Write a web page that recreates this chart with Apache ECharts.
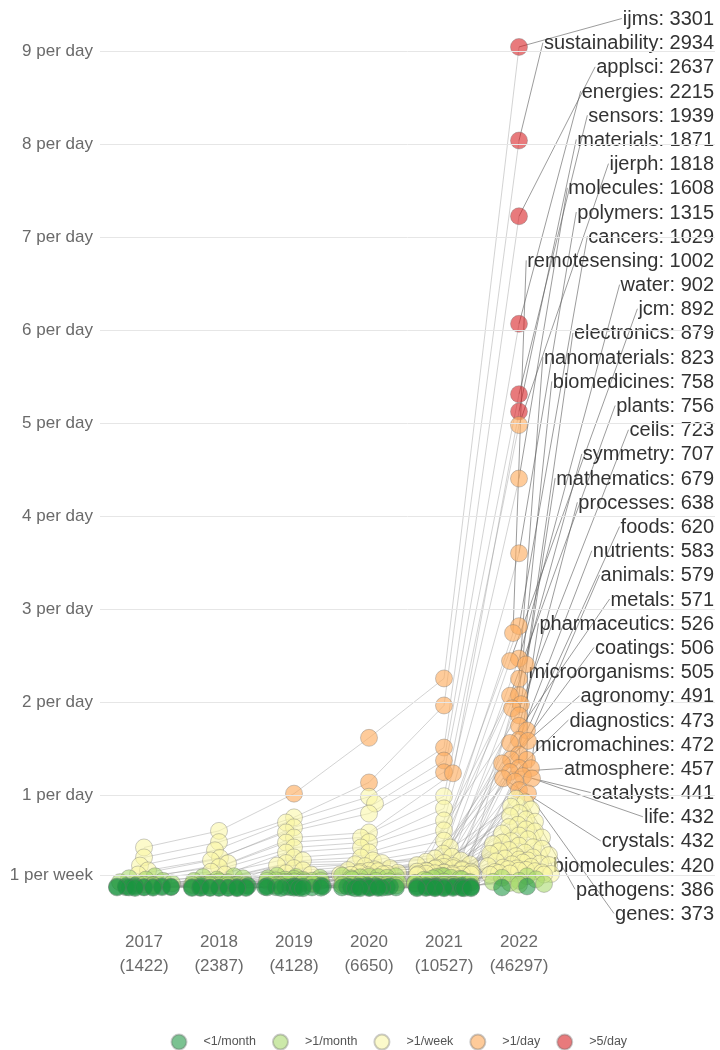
<!DOCTYPE html>
<html>
<head>
<meta charset="utf-8">
<script src="https://cdn.jsdelivr.net/npm/echarts@6/dist/echarts.min.js"></script>
<style>html,body{margin:0;padding:0;background:#fff}#c{width:720px;height:1050px}</style>
</head>
<body>
<div id="c"></div>
<script>
// ---------------- DATA ----------------
const years = ['2017', '2018', '2019', '2020', '2021', '2022'];
const yearTotals = [1422, 2387, 4128, 6650, 10527, 46297];

const yTickValues = [1 / 7, 1, 2, 3, 4, 5, 6, 7, 8, 9];
const yTickLabels = ['1 per week', '1 per day', '2 per day', '3 per day', '4 per day',
  '5 per day', '6 per day', '7 per day', '8 per day', '9 per day'];

const rateBands = ['<1/month', '>1/month', '>1/week', '>1/day', '>5/day'];
const bandLimits = [12, 52, 365, 1825]; // papers per year thresholds

// labelled journals: papers per year 2017..2022 (0 = not present)
const journalNames = ['ijms', 'sustainability', 'applsci', 'energies', 'sensors', 'materials',
  'ijerph', 'molecules', 'polymers', 'cancers', 'remotesensing', 'water', 'jcm', 'electronics',
  'nanomaterials', 'biomedicines', 'plants', 'cells', 'symmetry', 'mathematics', 'processes',
  'foods', 'nutrients', 'animals', 'metals', 'pharmaceutics', 'coatings', 'microorganisms',
  'agronomy', 'diagnostics', 'micromachines', 'atmosphere', 'catalysts', 'life', 'crystals',
  'biomolecules', 'pathogens', 'genes'];
const journalCounts = [
  [161, 226, 372, 591, 824, 3301],
  [122, 182, 279, 416, 718, 2934],
  [90, 150, 259, 360, 553, 2637],
  [71, 120, 240, 333, 502, 2215],
  [55, 110, 220, 294, 456, 1939],
  [48, 99, 200, 220, 452, 1871],
  [40, 84, 180, 200, 362, 1818],
  [35, 66, 161, 182, 314, 1608],
  [30, 55, 141, 161, 267, 1315],
  [20, 45, 122, 142, 228, 1029],
  [25, 48, 110, 122, 188, 1002],
  [18, 40, 100, 110, 161, 902],
  [15, 35, 90, 100, 137, 892],
  [12, 30, 80, 95, 125, 879],
  [10, 28, 72, 88, 118, 823],
  [0, 4, 30, 60, 110, 758],
  [6, 15, 40, 70, 105, 756],
  [4, 12, 45, 75, 100, 723],
  [14, 25, 60, 80, 95, 707],
  [8, 20, 55, 72, 92, 679],
  [5, 14, 38, 65, 88, 638],
  [0, 5, 28, 55, 85, 620],
  [11, 22, 50, 68, 82, 583],
  [4, 10, 30, 58, 80, 579],
  [9, 18, 42, 62, 78, 571],
  [5, 12, 35, 56, 76, 526],
  [0, 3, 22, 48, 72, 506],
  [0, 4, 26, 50, 70, 505],
  [0, 2, 20, 44, 68, 491],
  [0, 2, 18, 40, 66, 473],
  [6, 14, 32, 52, 64, 472],
  [4, 10, 24, 46, 62, 457],
  [7, 16, 34, 54, 60, 441],
  [0, 0, 8, 25, 58, 432],
  [5, 12, 28, 45, 56, 432],
  [0, 0, 14, 35, 55, 420],
  [0, 0, 12, 30, 52, 386],
  [6, 13, 30, 42, 50, 373]
];
// other (unlabelled) journals: papers per year 2017..2022 (0 = not present)
const otherCounts = [
  [0, 3, 8, 20, 60, 352], [0, 0, 5, 16, 55, 338], [2, 6, 10, 28, 66, 321], [0, 0, 0, 14, 52, 310],
  [0, 0, 0, 10, 48, 296], [0, 4, 9, 24, 58, 284], [0, 0, 6, 13, 45, 271], [0, 0, 0, 0, 40, 262],
  [0, 0, 4, 18, 42, 250], [0, 0, 0, 8, 36, 241], [0, 2, 7, 15, 38, 232], [0, 0, 0, 0, 30, 224],
  [3, 5, 11, 22, 34, 216], [0, 0, 0, 6, 27, 208], [0, 0, 0, 0, 25, 200], [0, 0, 3, 9, 22, 193],
  [0, 2, 5, 12, 24, 186], [0, 0, 0, 0, 18, 180], [0, 0, 0, 5, 16, 174], [0, 3, 6, 11, 20, 168],
  [0, 0, 0, 4, 14, 162], [0, 0, 0, 0, 12, 156], [0, 0, 2, 7, 13, 151], [0, 0, 0, 0, 10, 146],
  [0, 0, 0, 3, 9, 141], [0, 1, 4, 8, 11, 136], [0, 0, 0, 0, 8, 131], [0, 0, 0, 2, 7, 127],
  [0, 0, 0, 0, 6, 122], [0, 0, 1, 5, 9, 118], [0, 0, 0, 0, 5, 114], [0, 0, 0, 3, 6, 110],
  [0, 0, 0, 0, 4, 106], [0, 2, 3, 6, 8, 102], [0, 0, 0, 0, 3, 98], [0, 0, 0, 1, 4, 95],
  [0, 0, 2, 4, 7, 92], [0, 0, 0, 0, 2, 88], [0, 0, 0, 0, 0, 85], [0, 0, 0, 2, 5, 82],
  [0, 0, 0, 0, 0, 79], [0, 0, 0, 0, 3, 76], [0, 0, 0, 0, 0, 73], [0, 0, 0, 0, 2, 70],
  [0, 0, 0, 0, 0, 68], [0, 0, 0, 0, 1, 65], [0, 0, 0, 0, 0, 63], [0, 0, 0, 0, 0, 61],
  [0, 0, 0, 0, 1, 59], [0, 0, 0, 0, 0, 57], [0, 0, 0, 0, 0, 55], [0, 0, 0, 0, 0, 54],
  [0, 0, 0, 1, 2, 48], [0, 0, 0, 0, 1, 42], [0, 0, 0, 0, 0, 36], [0, 0, 0, 0, 1, 30],
  [0, 0, 0, 0, 0, 26], [0, 0, 0, 0, 1, 22], [0, 0, 0, 0, 0, 18], [0, 0, 0, 0, 0, 15],
  [0, 0, 0, 0, 0, 8], [0, 0, 0, 0, 0, 4]
];

// ---------------- LAYOUT / STYLE ----------------
const SANS = '"Liberation Sans", Arial, sans-serif';
const GRID = { left: 100, right: 5, top: 4.5, bottom: 161.5, outerBoundsMode: 'none' };
const PX_PER_YEAR = 75;
const Y_MAX = 9.5;
const PX_PER_RATE = (1050 - GRID.top - GRID.bottom) / Y_MAX;
const X_MIN = -44 / PX_PER_YEAR;
const X_MAX = (720 - GRID.right - GRID.left - 44) / PX_PER_YEAR;
const SWARM_HALF = 29, SWARM_D = 9;
const LABEL_RIGHT = 714, LABEL_TOP = 19.5, LABEL_STEP = 24.19;
const bandColors = ['rgba(26,150,65,0.72)', 'rgba(166,217,106,0.72)', 'rgba(250,246,165,0.72)',
  'rgba(253,174,97,0.8)', 'rgba(215,25,28,0.72)'];

function bandOf(c) {
  let b = 0;
  while (b < bandLimits.length && c >= bandLimits[b]) b++;
  return b;
}

// layered beeswarm: points that do not fit go onto the slots of a new layer
function swarm(points, maxHalf, D) {
  points.sort((a, b) => (b.py - a.py) || (a.ji - b.ji));
  const layers = [[]];
  let flip = 1;
  for (const p of points) {
    let placedOk = false;
    for (let L = 0; !placedOk; L++) {
      if (!layers[L]) layers[L] = [];
      const placed = layers[L];
      for (let k = 0; k <= maxHalf * 2; k++) {
        const s = Math.ceil(k / 2);
        const dx = (k % 2 === 1 ? -s : s) * flip;
        let ok = true;
        for (const q of placed) {
          const dy = q.py - p.py;
          if (Math.abs(dy) >= D) continue;
          if (Math.hypot(q.dx - dx, dy) < D) { ok = false; break; }
        }
        if (ok) { p.dx = dx; placed.push(p); placedOk = true; break; }
      }
      if (L > 20 && !placedOk) { p.dx = 0; placedOk = true; }
    }
    flip = -flip;
  }
}

const journals = journalCounts.map((r, i) => ({ name: journalNames[i], counts: r }))
  .concat(otherCounts.map((r, i) => ({ name: 'other' + i, counts: r })));
const pos = journals.map(() => new Array(years.length).fill(null));
const bandData = rateBands.map(() => []);

for (let yi = 0; yi < years.length; yi++) {
  const pts = [];
  journals.forEach((j, ji) => {
    const c = j.counts[yi];
    if (c > 0) pts.push({ ji, c, py: c / 365 * PX_PER_RATE });
  });
  swarm(pts, SWARM_HALF + (yi === 5 ? 3 : 0), SWARM_D);
  pts.forEach(p => {
    const pt = [yi + p.dx / PX_PER_YEAR, p.c / 365];
    pos[p.ji][yi] = pt;
    bandData[bandOf(p.c)].push(pt);
  });
}

const lineData = journals.map((j, ji) => ({ coords: pos[ji].filter(Boolean) }))
  .filter(d => d.coords.length > 1);

const measureCtx = document.createElement('canvas').getContext('2d');
const LABEL_FONT = '20px ' + SANS;
measureCtx.font = LABEL_FONT;
const labelTexts = journalNames.map((n, i) => n + ': ' + journalCounts[i][5]);

const chart = echarts.init(document.getElementById('c'), null, { renderer: 'canvas' });

const scatterOrder = [4, 3, 2, 1, 0];
const scatterSeries = scatterOrder.map(b => ({
  name: rateBands[b],
  type: 'scatter',
  data: bandData[b],
  symbol: 'circle',
  symbolSize: 17,
  itemStyle: { color: bandColors[b], borderColor: 'rgba(110,110,110,0.45)', borderWidth: 1 },
  z: 3,
  silent: true
}));

chart.setOption({
  animation: false,
  backgroundColor: '#fff',
  grid: GRID,
  xAxis: {
    type: 'value', min: X_MIN, max: X_MAX,
    axisLine: { show: false }, axisTick: { show: false }, splitLine: { show: false },
    axisLabel: {
      customValues: [0, 1, 2, 3, 4, 5],
      formatter: v => { const i = Math.round(v); return years[i] + '\n(' + yearTotals[i] + ')'; },
      fontFamily: SANS, fontSize: 17, color: '#6a6a6a', lineHeight: 24, margin: 42
    }
  },
  yAxis: {
    type: 'value', min: 0, max: Y_MAX,
    axisLine: { show: false }, axisTick: { show: false }, splitLine: { show: false },
    axisLabel: {
      customValues: yTickValues,
      formatter: v => {
        const k = yTickValues.findIndex(t => Math.abs(t - v) < 1e-6);
        return k >= 0 ? yTickLabels[k] : '';
      },
      fontFamily: SANS, fontSize: 17, color: '#6a6a6a', margin: 7
    }
  },
  legend: {
    data: rateBands,
    left: 170.5, top: 1033.5, padding: 0,
    icon: 'circle', itemWidth: 15, itemHeight: 15, itemGap: 16,
    textStyle: { fontFamily: SANS, fontSize: 12.5, color: '#555', padding: [0, 0, 0, 12] },
    selectedMode: false
  },
  series: [
    {
      name: 'gridlines', type: 'scatter', data: [], silent: true, z: 0,
      markLine: {
        silent: true, symbol: ['none', 'none'], label: { show: false },
        lineStyle: { color: '#e6e6e6', width: 1, type: 'solid' },
        data: yTickValues.map(v => ({ yAxis: v }))
      }
    },
    {
      name: 'trajectories', type: 'lines', coordinateSystem: 'cartesian2d', polyline: true,
      data: lineData, silent: true, z: 1,
      lineStyle: { color: 'rgb(150,150,150)', width: 1, opacity: 0.42 }
    },
    {
      name: 'labels', type: 'custom', silent: true, z: 2,
      data: journalNames.map((n, i) => pos[i][5]),
      encode: { x: 0, y: 1 },
      renderItem: (params, api) => {
        const i = params.dataIndex;
        const p = api.coord([api.value(0), api.value(1)]);
        const ly = LABEL_TOP + i * LABEL_STEP;
        const txt = labelTexts[i];
        const w = measureCtx.measureText(txt).width;
        const lx = LABEL_RIGHT - w - 1;
        return {
          type: 'group',
          children: [
            { type: 'line', shape: { x1: p[0], y1: p[1], x2: lx, y2: ly - 1 },
              style: { stroke: 'rgba(90,90,90,0.6)', lineWidth: 1 } },
            { type: 'text', style: { text: txt, x: LABEL_RIGHT, y: ly, align: 'right',
              verticalAlign: 'middle', font: LABEL_FONT, fill: '#333' } }
          ]
        };
      }
    }
  ].concat(scatterSeries)
});
</script>
</body>
</html>
